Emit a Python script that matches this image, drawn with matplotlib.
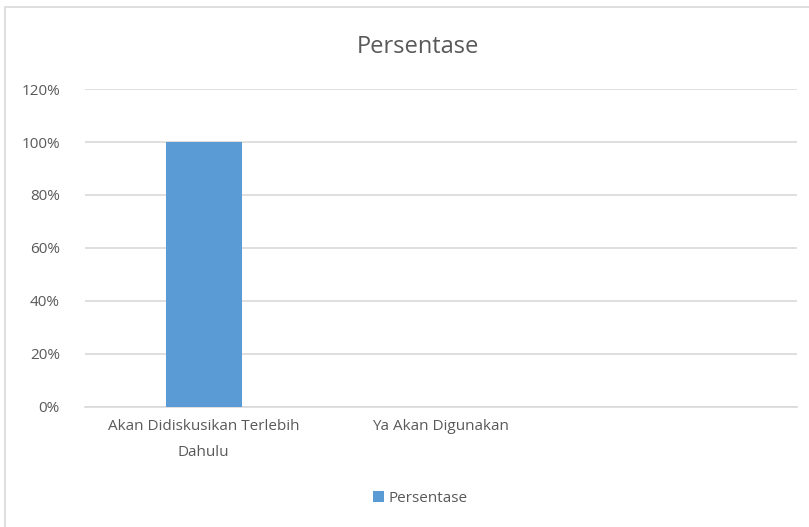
import matplotlib.pyplot as plt
from matplotlib.patches import Rectangle
from matplotlib.ticker import PercentFormatter

categories = ["Akan Didiskusikan Terlebih\nDahulu", "Ya Akan Digunakan", ""]
persentase = [1.0, 0.0, 0.0]
yticks = [0, 0.2, 0.4, 0.6, 0.8, 1.0, 1.2]

plt.rcParams["font.family"] = ["Liberation Sans Narrow", "Open Sans", "DejaVu Sans"]

fig = plt.figure(figsize=(8.09, 5.27), dpi=100)
ax = fig.add_axes([0.105, 0.228, 0.880, 0.603])

x = range(len(categories))
ax.bar(x, persentase, width=0.32, color="#5b9bd5", label="Persentase", zorder=3)

ax.set_xlim(-0.5, len(categories) - 0.5)
ax.set_ylim(0, 1.2)
ax.set_yticks(yticks)
ax.yaxis.set_major_formatter(PercentFormatter(1.0, decimals=0))
ax.set_xticks(list(x))
ax.set_xticklabels(categories, linespacing=1.95)
ax.tick_params(axis="both", length=0, colors="#595959", labelsize=11)
ax.tick_params(axis="y", pad=18)
ax.tick_params(axis="x", pad=9)
ax.grid(axis="y", color="#d9d9d9", linewidth=1.2, zorder=0)
for side in ["top", "right", "left"]:
    ax.spines[side].set_visible(False)
ax.spines["bottom"].set_color("#d9d9d9")
ax.spines["bottom"].set_linewidth(1.2)

fig.text(0.516, 0.91, "Persentase", ha="center", va="center", fontsize=17, color="#595959")

fig.legend(loc="center", bbox_to_anchor=(0.52, 0.055), frameon=False,
           fontsize=11, labelcolor="#595959", handlelength=0.7, handleheight=0.7,
           handletextpad=0.3)

fig.patches.append(Rectangle((0.006, -0.1), 1.2, 1.087, transform=fig.transFigure,
                             fill=False, edgecolor="#d9d9d9", linewidth=1.2))

fig.savefig("out.png", dpi=100)
